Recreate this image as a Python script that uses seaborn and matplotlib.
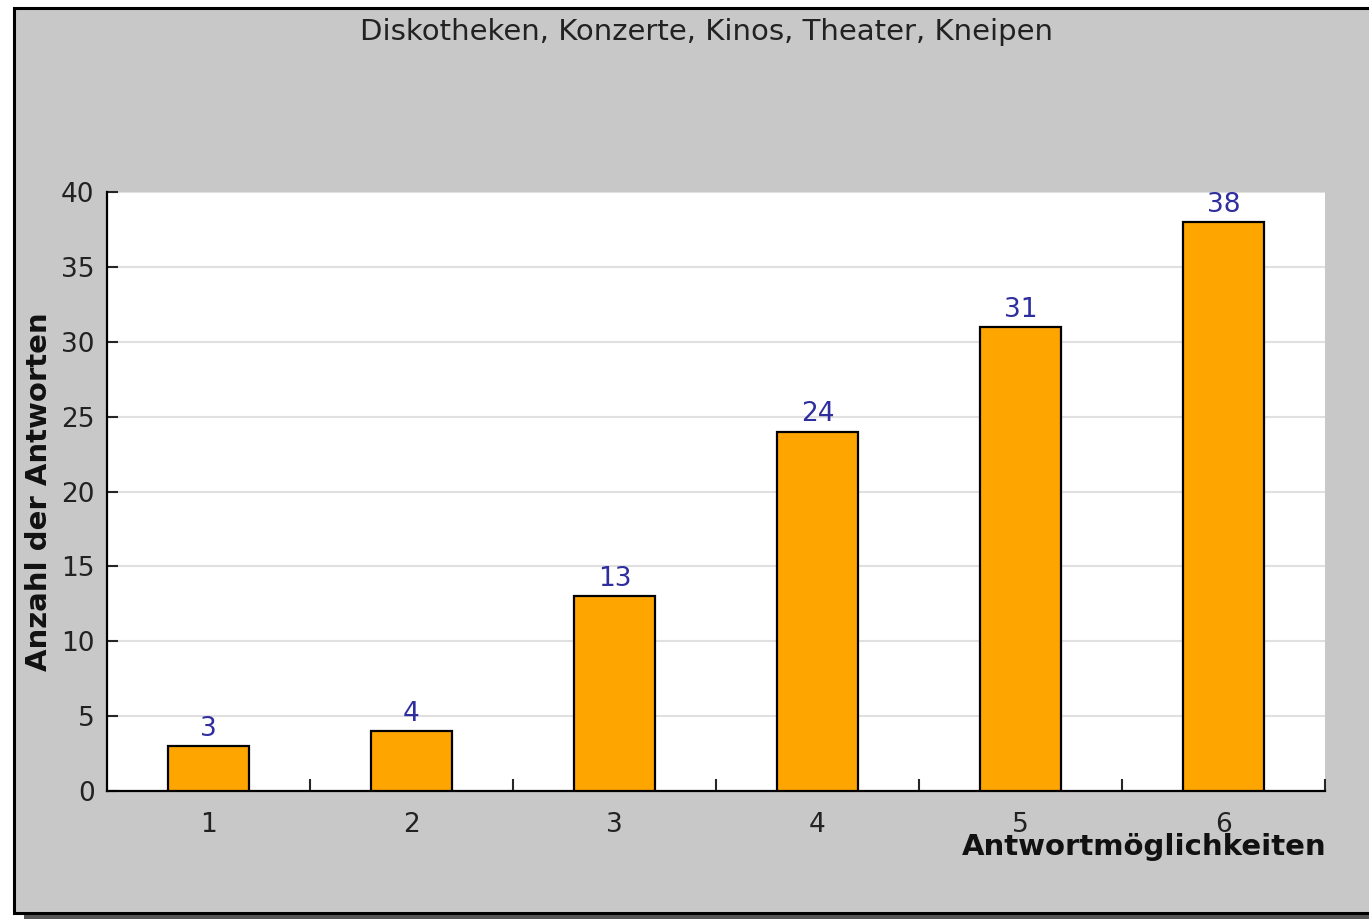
import numpy as np
import matplotlib
matplotlib.use("Agg")
import matplotlib.pyplot as plt
from matplotlib.patches import Rectangle
from matplotlib.ticker import FixedLocator
import seaborn as sns
import pandas as pd

# ============================================================================
# DATA
# ============================================================================

categories = ["1", "2", "3", "4", "5", "6"]
counts = [3, 4, 13, 24, 31, 38]
title = "Diskotheken, Konzerte, Kinos, Theater, Kneipen"
x_label = "Antwortmöglichkeiten"
y_label = "Anzahl der Antworten"
y_ticks = [0, 5, 10, 15, 20, 25, 30, 35, 40]

df = pd.DataFrame({"antwort": categories, "anzahl": counts})

# ============================================================================
# FIGURE
# ============================================================================

sns.set_style("white")
plt.rcParams["font.family"] = ["DejaVu Sans"]

W, H = 1369, 919
fig = plt.figure(figsize=(W / 100, H / 100), dpi=100, facecolor="white")

# shadow + grey panel with black frame
fig.patches.append(Rectangle((24 / W, 1 - 919 / H), 1.0, (919 - 16) / H,
                             transform=fig.transFigure, facecolor="#555555",
                             edgecolor="none", zorder=0))
fig.patches.append(Rectangle((14 / W, 1 - 913 / H), 1.0, (913 - 8) / H,
                             transform=fig.transFigure, facecolor="#c8c8c8",
                             edgecolor="black", linewidth=2.2, zorder=1))

ax = fig.add_axes([107 / W, 1 - 791 / H, 1218 / W, (791 - 192) / H])
ax.set_facecolor("white")
ax.set_zorder(2)

sns.barplot(
    data=df,
    x="antwort",
    y="anzahl",
    color="#ffa500",
    saturation=1,
    width=0.4,
    edgecolor="black",
    linewidth=1.6,
    ax=ax,
    zorder=3
)

for c in ax.containers:
    ax.bar_label(c, padding=3, color="#2e2e9e", fontsize=19)

ax.set_xlim(-0.5, 5.5)
ax.set_ylim(0, 40)
ax.set_yticks(y_ticks)

ax.yaxis.grid(True, color="#e0e0e0", linewidth=1.5, zorder=0)
ax.set_axisbelow(True)

sns.despine(ax=ax, top=True, right=True)
for s in ["left", "bottom"]:
    ax.spines[s].set_color("black")
    ax.spines[s].set_linewidth(1.6)

ax.tick_params(axis="y", direction="in", length=8, width=1.5,
               pad=9, labelsize=19, labelcolor="#222222", left=True)
ax.tick_params(axis="x", which="major", length=0, pad=15,
               labelsize=19, labelcolor="#222222")
ax.xaxis.set_minor_locator(FixedLocator(np.arange(0.5, 6, 1.0)))
ax.tick_params(axis="x", which="minor", direction="in", length=9,
               width=1.5, bottom=True)

ax.set_xlabel(x_label, fontsize=21, fontweight="bold", loc="right",
              va="center", color="#111111")
ax.xaxis.set_label_coords(1.0015, -(847 - 791) / (791 - 192))
ax.set_ylabel(y_label, fontsize=21, fontweight="bold", va="center",
              color="#111111")
ax.yaxis.set_label_coords(-(107 - 39) / 1218, 0.5)

fig.text(707 / W, 1 - 32 / H, title, ha="center", va="center",
         fontsize=21, color="#222222")

fig.savefig("out.png", dpi=100, facecolor="white")
